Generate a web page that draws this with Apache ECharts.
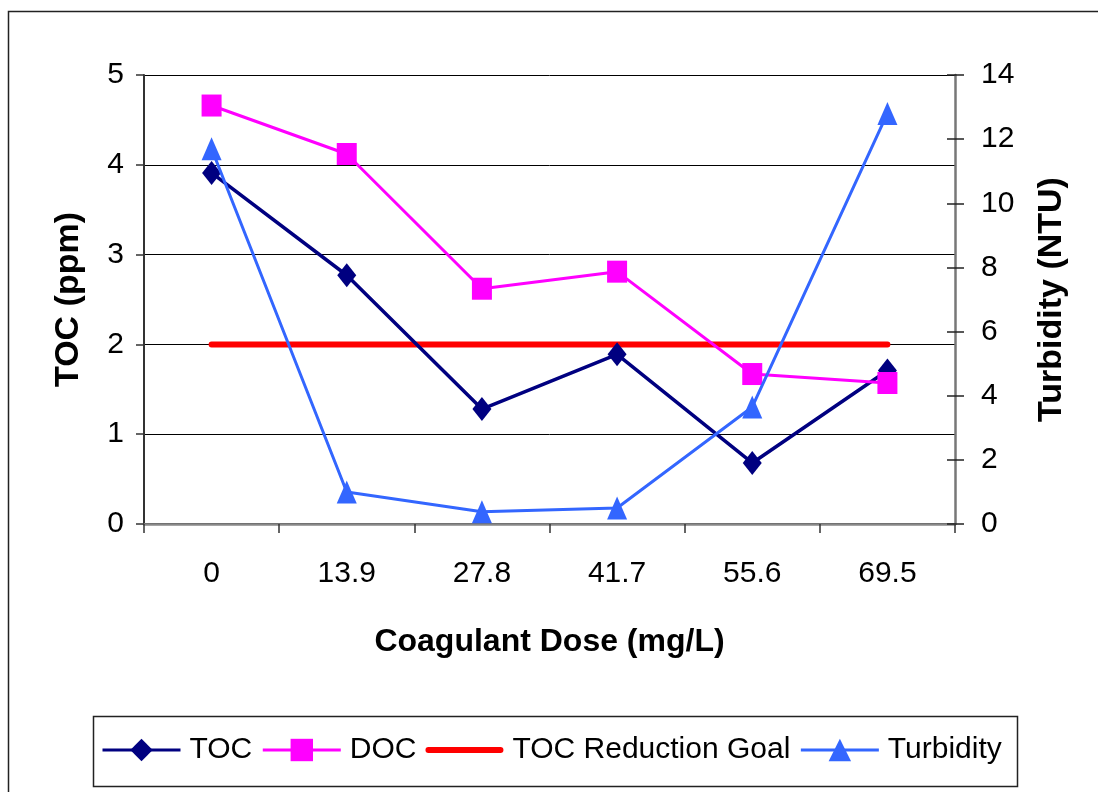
<!DOCTYPE html>
<html>
<head>
<meta charset="utf-8">
<script src="https://cdn.jsdelivr.net/npm/echarts@6/dist/echarts.min.js"></script>
<style>
html,body{margin:0;padding:0;background:#fff;}
#chart{width:1098px;height:792px;}
</style>
</head>
<body>
<div id="chart"></div>
<script>
const categories = ['0', '13.9', '27.8', '41.7', '55.6', '69.5'];
const tocValues = [3.91, 2.77, 1.28, 1.89, 0.68, 1.71];
const docValues = [4.66, 4.12, 2.62, 2.81, 1.67, 1.57];
const goalValues = [2, 2, 2, 2, 2, 2];
const turbidityValues = [11.7, 1.0, 0.38, 0.5, 3.65, 12.8];
const leftTicks = { min: 0, max: 5, interval: 1 };
const rightTicks = { min: 0, max: 14, interval: 2 };

const FONT = 'Liberation Sans, Arial, sans-serif';
const chart = echarts.init(document.getElementById('chart'), null, { renderer: 'canvas' });

chart.setOption({
  animation: false,
  backgroundColor: '#fff',
  textStyle: { fontFamily: FONT },
  graphic: [
    { type: 'rect', shape: { x: 8.5, y: 11.5, width: 1100, height: 800 }, style: { fill: 'none', stroke: '#222', lineWidth: 1.5 }, z: -10 },
    { type: 'rect', shape: { x: 93.5, y: 716.5, width: 924, height: 70 }, style: { fill: 'none', stroke: '#222', lineWidth: 1.5 }, z: -5 }
  ],
  grid: { left: 144, right: 143, top: 75, bottom: 268 },
  legend: {
    left: 101,
    top: 735,
    itemWidth: 78,
    itemHeight: 28,
    itemGap: 9,
    padding: 0,
    lineStyle: { width: 3 },
    textStyle: { fontFamily: FONT, fontSize: 30, color: '#000', padding: [0, 0, 0, 4] },
    data: [
      { name: 'TOC' },
      { name: 'DOC' },
      { name: 'TOC Reduction Goal', icon: 'path://M3,0 L75,0 A3,3 0 0 1 75,6 L3,6 A3,3 0 0 1 3,0 Z' },
      { name: 'Turbidity' }
    ]
  },
  xAxis: [
    {
      type: 'category',
      data: categories,
      position: 'bottom',
      boundaryGap: true,
      name: 'Coagulant Dose (mg/L)',
      nameLocation: 'middle',
      nameGap: 102,
      nameTextStyle: { fontFamily: FONT, fontSize: 32, fontWeight: 'bold', color: '#000' },
      axisLine: { lineStyle: { color: '#333', width: 2 } },
      axisTick: { show: true, inside: false, length: 9, lineStyle: { color: '#333', width: 1.5 } },
      axisLabel: { fontFamily: FONT, fontSize: 30, color: '#000', margin: 35 },
      splitLine: { show: false }
    },
    {
      type: 'category',
      data: categories,
      position: 'top',
      axisLine: { lineStyle: { color: '#888', width: 2.5 } },
      axisTick: { show: false },
      axisLabel: { show: false },
      splitLine: { show: false }
    }
  ],
  yAxis: [
    {
      type: 'value',
      position: 'left',
      min: leftTicks.min, max: leftTicks.max, interval: leftTicks.interval,
      name: 'TOC (ppm)',
      nameLocation: 'middle',
      nameGap: 58,
      nameTextStyle: { fontFamily: FONT, fontSize: 34, fontWeight: 'bold', color: '#000' },
      axisLine: { show: true, lineStyle: { color: '#333', width: 2 } },
      axisTick: { show: true, inside: false, length: 8, lineStyle: { color: '#333', width: 1.5 } },
      axisLabel: { fontFamily: FONT, fontSize: 30, color: '#000', margin: 20 },
      splitLine: { show: true, lineStyle: { color: '#000', width: 1 } }
    },
    {
      type: 'value',
      position: 'right',
      min: rightTicks.min, max: rightTicks.max, interval: rightTicks.interval,
      name: 'Turbidity (NTU)',
      nameLocation: 'middle',
      nameGap: 80,
      nameRotate: 90,
      nameTextStyle: { fontFamily: FONT, fontSize: 34, fontWeight: 'bold', color: '#000' },
      axisLine: { show: true, lineStyle: { color: '#777', width: 2.5 } },
      axisTick: { show: true, inside: false, length: 9, lineStyle: { color: '#222', width: 1.5 } },
      axisLabel: { fontFamily: FONT, fontSize: 30, color: '#000', margin: 26 },
      splitLine: { show: false }
    },
    {
      type: 'value',
      position: 'right',
      min: rightTicks.min, max: rightTicks.max, interval: rightTicks.interval,
      axisLine: { show: false },
      axisTick: { show: true, inside: true, length: 8, lineStyle: { color: '#222', width: 1.5 } },
      axisLabel: { show: false },
      splitLine: { show: false }
    }
  ],
  series: [
    {
      name: 'TOC', type: 'line', yAxisIndex: 0, data: tocValues,
      symbol: 'diamond', symbolSize: [19, 24],
      lineStyle: { color: '#000080', width: 3.5 },
      itemStyle: { color: '#000080' }, z: 3
    },
    {
      name: 'DOC', type: 'line', yAxisIndex: 0, data: docValues,
      symbol: 'rect', symbolSize: [20, 22],
      lineStyle: { color: '#FF00FF', width: 3 },
      itemStyle: { color: '#FF00FF' }, z: 3
    },
    {
      name: 'TOC Reduction Goal', type: 'line', yAxisIndex: 0, data: goalValues,
      symbol: 'none', showSymbol: false,
      lineStyle: { color: '#FF0000', width: 6, cap: 'round' },
      itemStyle: { color: '#FF0000' }, z: 2
    },
    {
      name: 'Turbidity', type: 'line', yAxisIndex: 1, data: turbidityValues,
      symbol: 'triangle', symbolSize: [20, 23],
      lineStyle: { color: '#3366FF', width: 3 },
      itemStyle: { color: '#3366FF' }, z: 4
    }
  ]
});
</script>
</body>
</html>
